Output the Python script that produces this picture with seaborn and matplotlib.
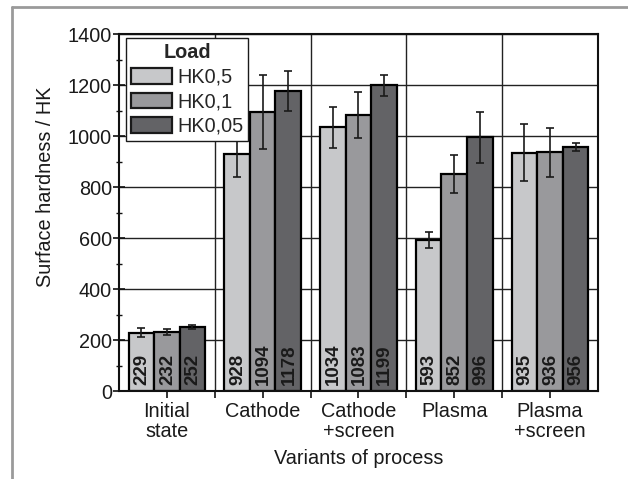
import pandas as pd
import numpy as np
import matplotlib
matplotlib.use('Agg')
import matplotlib.pyplot as plt
from matplotlib.lines import Line2D
from matplotlib.ticker import MultipleLocator, FixedLocator
import seaborn as sns

sns.set_theme(style="white")
plt.rcParams['font.family'] = ['Liberation Sans', 'DejaVu Sans']

# ── DATA ─────────────────────────────────────────────
variants = ["Initial\nstate", "Cathode", "Cathode\n+screen", "Plasma", "Plasma\n+screen"]
loads = ["HK0,5", "HK0,1", "HK0,05"]
hk05 = [229, 928, 1034, 593, 935]
hk01 = [232, 1094, 1083, 852, 936]
hk005 = [252, 1178, 1199, 996, 956]
err05 = [17, 89, 80, 31, 111]
err01 = [11, 145, 91, 75, 97]
err005 = [8, 78, 41, 100, 16]
colors = ['#c7c8ca', '#98999c', '#636366']

values = [hk05, hk01, hk005]
errors = [err05, err01, err005]

df = pd.DataFrame({
    'Variant': np.tile(variants, len(loads)),
    'Load': np.repeat(loads, len(variants)),
    'HK': np.concatenate(values),
})

FS = 14.3

fig = plt.figure(figsize=(6.28, 4.79), dpi=100)
ax = fig.add_axes([0.1895, 0.1837, 0.7625, 0.7453])

sns.barplot(data=df, x='Variant', y='HK', hue='Load', order=variants,
            hue_order=loads, palette=colors, edgecolor='black',
            linewidth=1.6, errorbar=None, width=0.8, ax=ax, zorder=2)

# error bars + value labels
for cont, errs in zip(ax.containers, errors):
    for patch, e in zip(cont.patches, errs):
        xc = patch.get_x() + patch.get_width() / 2
        h = patch.get_height()
        ax.errorbar(xc, h, yerr=e, fmt='none', ecolor='#1a1a1a',
                    elinewidth=1.2, capsize=2.7, capthick=1.2, zorder=3)
        ax.annotate(f'{h:.0f}', xy=(xc, 0), xytext=(0.5, 4),
                    textcoords='offset points', rotation=90,
                    ha='center', va='bottom', fontsize=13.5,
                    fontweight='bold', color='#1a1a1a', zorder=4)

ax.set_ylim(0, 1400)
ax.set_xlim(-0.5, len(variants) - 0.5)
ax.yaxis.set_major_locator(MultipleLocator(200))
ax.yaxis.set_minor_locator(MultipleLocator(100))
ax.xaxis.set_minor_locator(FixedLocator(np.arange(0.5, len(variants) - 0.5, 1)))

ax.set_axisbelow(True)
ax.grid(axis='y', which='major', color='#222222', linewidth=1.0)
ax.grid(axis='x', which='minor', color='#222222', linewidth=1.0)
ax.grid(axis='x', which='major', visible=False)

for s in ax.spines.values():
    s.set_color('#111111')
    s.set_linewidth(1.5)

ax.tick_params(axis='y', which='major', direction='inout', length=8,
               width=1.2, color='#111111', labelsize=FS, pad=1,
               labelcolor='#1a1a1a', left=True)
ax.tick_params(axis='y', which='minor', direction='inout', length=5,
               width=1.0, color='#111111', left=True)
ax.tick_params(axis='x', which='both', direction='out', length=5,
               width=1.2, color='#111111', labelsize=FS, pad=3,
               labelcolor='#1a1a1a', bottom=True)
for lbl in ax.get_xticklabels():
    lbl.set_linespacing(1.05)

ax.set_xlabel('Variants of process', fontsize=FS, color='#1a1a1a', labelpad=6)
ax.set_ylabel('Surface hardness / HK', fontsize=FS, color='#1a1a1a')
ax.yaxis.set_label_coords(-0.134, 0.571)

leg = ax.legend(title='Load', loc='upper left', bbox_to_anchor=(0.014, 0.988),
                fontsize=FS, title_fontproperties={'weight': 'bold', 'size': FS},
                frameon=True, fancybox=False, framealpha=1, edgecolor='#1a1a1a',
                handlelength=2.1, handleheight=0.85, handletextpad=0.25,
                labelspacing=0.28, borderpad=0.25, borderaxespad=0)
leg.get_frame().set_linewidth(1.0)
for h in leg.legend_handles:
    h.set_edgecolor('#1a1a1a')
    h.set_linewidth(1.6)

# outer grey frame (left and top edges)
fig.add_artist(Line2D([12 / 628, 12 / 628], [0, 1 - 7 / 479],
                      transform=fig.transFigure, color='#9a9a9a', lw=2))
fig.add_artist(Line2D([12 / 628, 1], [1 - 7 / 479, 1 - 7 / 479],
                      transform=fig.transFigure, color='#9a9a9a', lw=2))

plt.savefig('out.png', dpi=100)
plt.close()
